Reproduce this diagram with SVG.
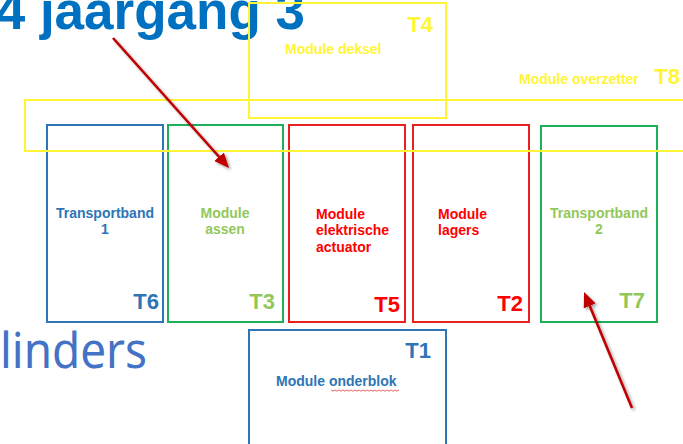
<svg xmlns="http://www.w3.org/2000/svg" width="683" height="444" viewBox="0 0 683 444">
<defs>
<style>
.lbl{font-family:"Liberation Sans",Arial,sans-serif;font-weight:bold;font-size:14px}
.tag{font-family:"Liberation Sans",Arial,sans-serif;font-weight:bold;font-size:22px;text-anchor:end}
.mid{text-anchor:middle}
.box{fill:none;stroke-width:2}
.yel{stroke:#FFF536}
.blu{stroke:#2E75B6}
.grn{stroke:#1DAF5A}
.red{stroke:#E8201E}
.tblu{fill:#2E75B6}
.tgrn{fill:#92C85A}
.tred{fill:#FF0000}
.tyel{fill:#FFF536}
.arrow{stroke:#C00000;stroke-width:2.6;fill:none;marker-end:url(#head)}
</style>
<marker id="head" markerUnits="userSpaceOnUse" markerWidth="16" markerHeight="14" refX="7" refY="6.5" orient="auto">
<path d="M0,0 L15,6.5 L0,13 z" fill="#C00000"/>
</marker>
<filter id="sh" x="-20%" y="-20%" width="140%" height="140%">
<feDropShadow dx="2" dy="2" stdDeviation="1.5" flood-color="#000" flood-opacity="0.35"/>
</filter>
</defs>
<rect width="683" height="444" fill="#fff"/>

<g id="title">
<text x="305" y="29" font-family="Liberation Sans,Arial,sans-serif" font-weight="bold" font-size="53" fill="#0070C0" text-anchor="end">4 jaargang 3</text>
</g>
<g id="cilinders">
<text x="0" y="368" font-family="Noto Sans,Liberation Sans,sans-serif" font-size="50" fill="#4472C4" textLength="147" lengthAdjust="spacingAndGlyphs">linders</text>
</g>

<g id="T6">
<rect class="box blu" x="47" y="125" width="116" height="197"/>
<text class="lbl tblu mid" x="105" y="218">Transportband</text>
<text class="lbl tblu mid" x="105" y="234">1</text>
<text class="tag tblu" x="159" y="309">T6</text>
</g>
<g id="T3">
<rect class="box grn" x="168" y="125" width="115" height="197"/>
<text class="lbl tgrn mid" x="225" y="218">Module</text>
<text class="lbl tgrn mid" x="225" y="234">assen</text>
<text class="tag tgrn" x="275" y="309">T3</text>
</g>
<g id="T5">
<rect class="box red" x="289" y="125" width="116" height="197"/>
<text class="lbl tred" x="316" y="219">Module</text>
<text class="lbl tred" x="316" y="235">elektrische</text>
<text class="lbl tred" x="316" y="252">actuator</text>
<text class="tag tred" x="400" y="312">T5</text>
</g>
<g id="T2">
<rect class="box red" x="413" y="125" width="116" height="197"/>
<text class="lbl tred" x="438" y="219">Module</text>
<text class="lbl tred" x="438" y="235">lagers</text>
<text class="tag tred" x="523" y="311">T2</text>
</g>
<g id="T7">
<rect class="box grn" x="541" y="126" width="116" height="196"/>
<text class="lbl tgrn mid" x="599" y="218">Transportband</text>
<text class="lbl tgrn mid" x="599" y="234">2</text>
<text class="tag tgrn" x="645" y="308">T7</text>
</g>
<g id="T1">
<rect class="box blu" x="249" y="330" width="197" height="130"/>
<text class="tag tblu" x="431" y="358">T1</text>
<text class="lbl tblu" x="276" y="386">Module onderblok</text>
<path d="M331,390 l2,1.2 l2,-1.2 l2,1.2 l2,-1.2 l2,1.2 l2,-1.2 l2,1.2 l2,-1.2 l2,1.2 l2,-1.2 l2,1.2 l2,-1.2 l2,1.2 l2,-1.2 l2,1.2 l2,-1.2 l2,1.2 l2,-1.2 l2,1.2 l2,-1.2 l2,1.2 l2,-1.2 l2,1.2 l2,-1.2 l2,1.2 l2,-1.2 l2,1.2 l2,-1.2 l2,1.2 l2,-1.2 l2,1.2 l2,-1.2 l2,1.2 l2,-1.2" fill="none" stroke="#E04040" stroke-width="0.8"/>
</g>
<g id="T8">
<rect class="box yel" x="25" y="100" width="680" height="51"/>
<text class="lbl tyel" x="519" y="84">Module overzetter</text>
<text class="tag tyel" x="680" y="84">T8</text>
</g>
<g id="T4">
<rect class="box yel" x="249" y="3" width="197" height="115"/>
<text class="lbl tyel" x="285" y="54">Module deksel</text>
<text class="tag tyel" x="433" y="32">T4</text>
</g>

<g id="connectors" filter="url(#sh)">
<path class="arrow" d="M113,38 L223.7,162"/>
<path class="arrow" d="M632,408 L587.1,299.4"/>
</g>
</svg>
